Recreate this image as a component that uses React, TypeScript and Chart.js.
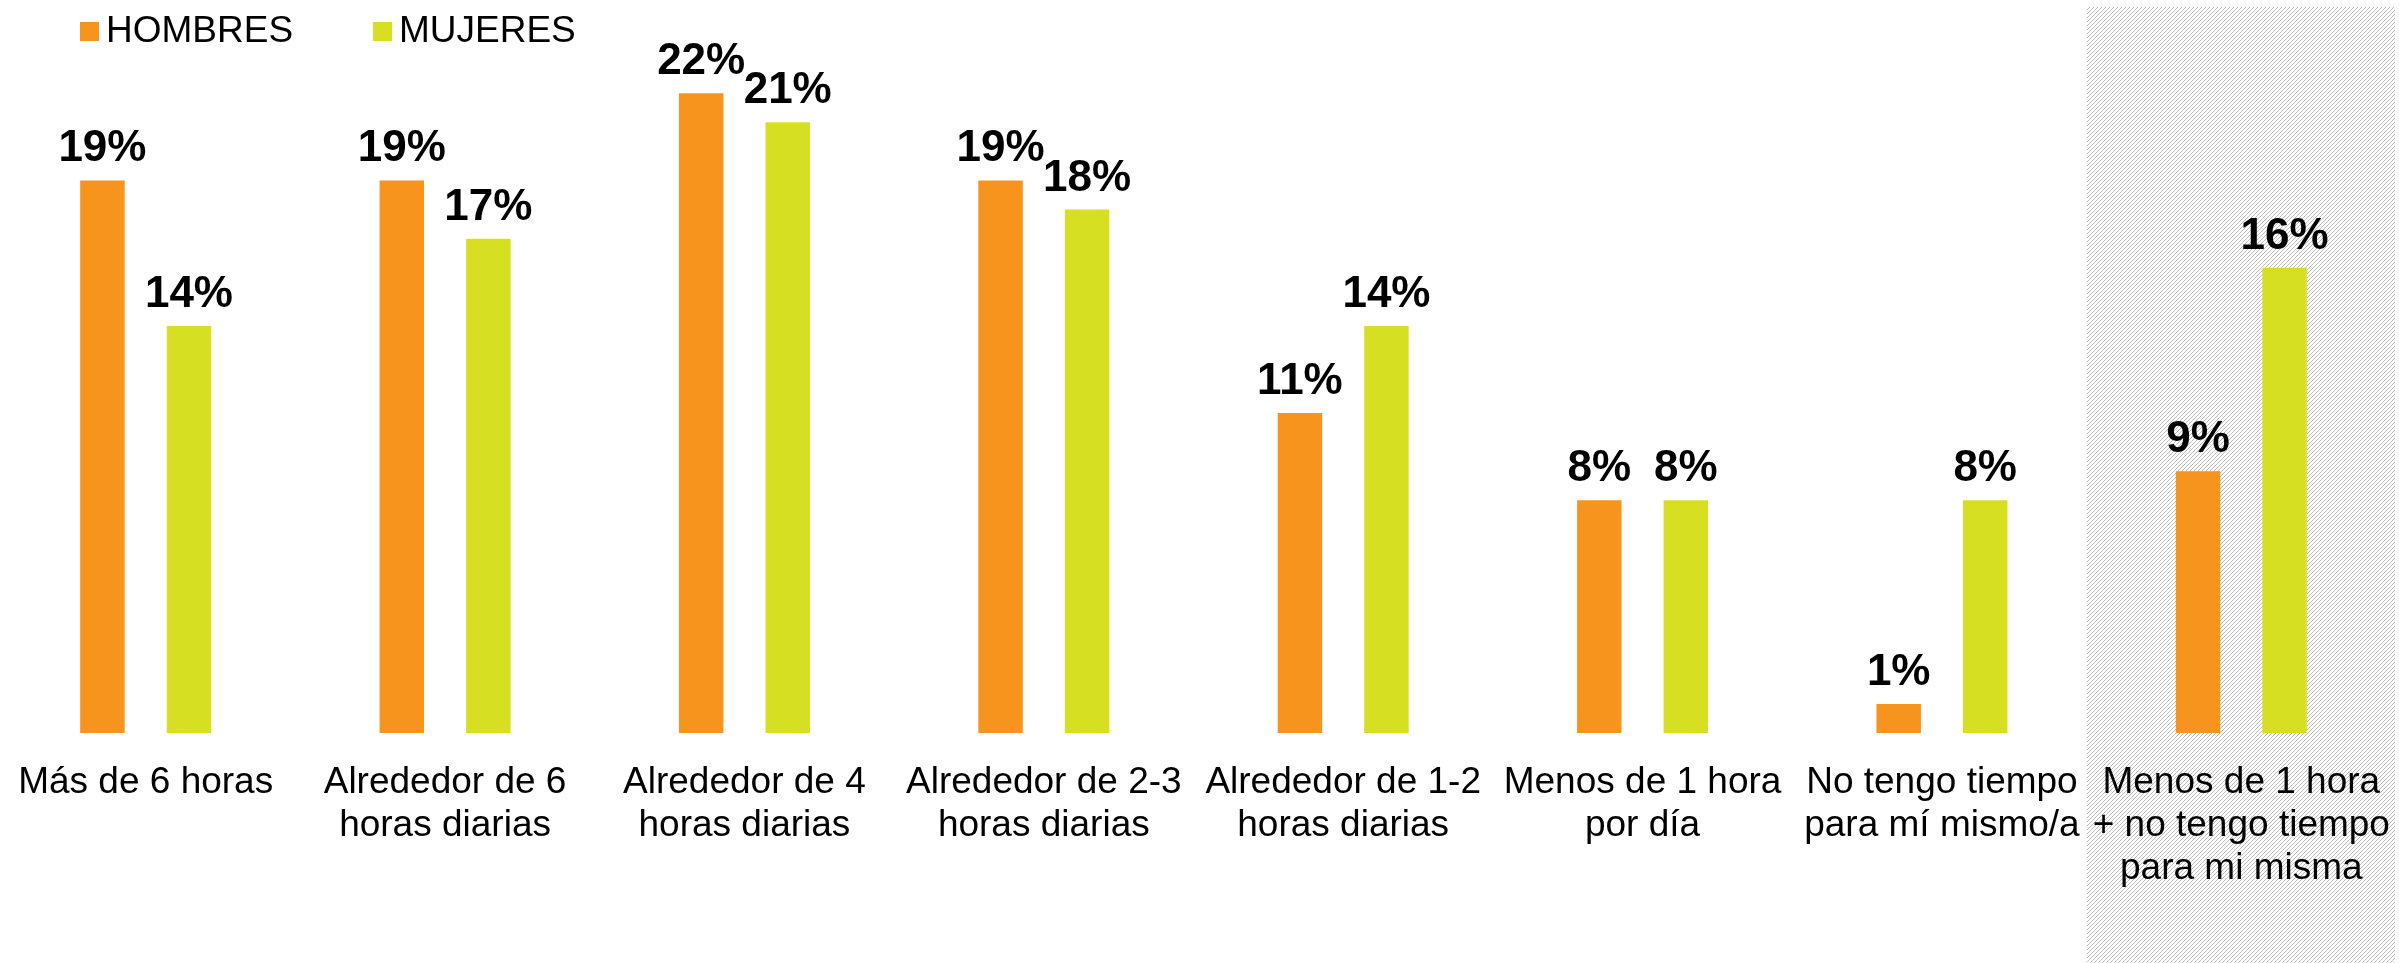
import React, { useEffect, useRef } from 'react';
import { Chart, registerables } from 'chart.js';

Chart.register(...registerables);

// ---- data ----
const categories: string[][] = [
  ['Más de 6 horas'],
  ['Alrededor de 6', 'horas diarias'],
  ['Alrededor de 4', 'horas diarias'],
  ['Alrededor de 2-3', 'horas diarias'],
  ['Alrededor de 1-2', 'horas diarias'],
  ['Menos de 1 hora', 'por día'],
  ['No tengo tiempo', 'para mí mismo/a'],
  ['Menos de 1 hora', '+ no tengo tiempo', 'para mi misma'],
];
const hombres = [19, 19, 22, 19, 11, 8, 1, 9];
const mujeres = [14, 17, 21, 18, 14, 8, 8, 16];
const seriesNames = ['HOMBRES', 'MUJERES'];
const seriesColors = ['#F7941E', '#D7DF23'];
const highlightedCategory = 7;

const FONT = '"Liberation Sans", Arial, sans-serif';
const CANVAS_LEFT = -4;
const CANVAS_W = 2403;
const CANVAS_H = 963;

function makeHatch(ctx: CanvasRenderingContext2D): CanvasPattern | string {
  const c = document.createElement('canvas');
  c.width = 8;
  c.height = 8;
  const p = c.getContext('2d');
  if (!p) return '#eeeeee';
  p.fillStyle = '#ffffff';
  p.fillRect(0, 0, 8, 8);
  p.fillStyle = '#bcbcbc';
  for (let y = 0; y < 8; y++) {
    for (let x = 0; x < 8; x++) {
      if ((x + y) % 4 === 0) p.fillRect(x, y, 1, 1);
    }
  }
  return ctx.createPattern(c, 'repeat') || '#eeeeee';
}

const hatchPlugin = {
  id: 'hatchBand',
  beforeDraw(chart: any) {
    const { ctx, scales } = chart;
    const xs = scales.x;
    const cx = xs.getPixelForValue(highlightedCategory);
    ctx.save();
    ctx.fillStyle = makeHatch(ctx);
    ctx.fillRect(Math.round(cx - 154), 7, 308, CANVAS_H - 7);
    ctx.restore();
  },
};

const valueLabelPlugin = {
  id: 'valueLabels',
  afterDatasetsDraw(chart: any) {
    const { ctx } = chart;
    ctx.save();
    ctx.font = `bold 44px ${FONT}`;
    ctx.fillStyle = '#000000';
    ctx.textAlign = 'center';
    ctx.textBaseline = 'alphabetic';
    chart.data.datasets.forEach((ds: any, di: number) => {
      const meta = chart.getDatasetMeta(di);
      meta.data.forEach((bar: any, i: number) => {
        const v = ds.data[i];
        ctx.fillText(`${Math.round(v)}%`, bar.x, bar.y - 19);
      });
    });
    ctx.restore();
  },
};

const legendPlugin = {
  id: 'customLegend',
  afterDraw(chart: any) {
    const { ctx } = chart;
    const boxX = [80 - CANVAS_LEFT, 373 - CANVAS_LEFT];
    const textX = [106 - CANVAS_LEFT, 399 - CANVAS_LEFT];
    ctx.save();
    ctx.font = `37px ${FONT}`;
    ctx.textAlign = 'left';
    ctx.textBaseline = 'alphabetic';
    seriesNames.forEach((name, i) => {
      ctx.fillStyle = seriesColors[i];
      ctx.fillRect(boxX[i], 22, 19, 19);
      ctx.fillStyle = '#000000';
      ctx.fillText(name, textX[i], 42);
    });
    ctx.restore();
  },
};

export default function App() {
  const ref = useRef<HTMLCanvasElement>(null);

  useEffect(() => {
    if (!ref.current) return;
    const chart = new Chart(ref.current, {
      type: 'bar',
      data: {
        labels: categories,
        datasets: [
          {
            label: seriesNames[0],
            data: hombres,
            backgroundColor: seriesColors[0],
            categoryPercentage: 0.578,
            barPercentage: 0.514,
          },
          {
            label: seriesNames[1],
            data: mujeres,
            backgroundColor: seriesColors[1],
            categoryPercentage: 0.578,
            barPercentage: 0.514,
          },
        ],
      },
      options: {
        responsive: false,
        animation: false,
        layout: { padding: { top: 6, right: 8, left: 0, bottom: 0 } },
        plugins: {
          legend: { display: false },
          tooltip: { enabled: false },
        },
        scales: {
          x: {
            grid: { display: false, drawTicks: false },
            border: { display: false },
            ticks: {
              color: '#000000',
              padding: 28,
              maxRotation: 0,
              autoSkip: false,
              font: { family: FONT, size: 37, lineHeight: 1.16 },
            },
            afterFit: (scale: any) => {
              scale.height = CANVAS_H - 733;
              scale.paddingLeft = 0;
              scale.paddingRight = 0;
            },
          },
          y: {
            display: false,
            min: 0,
            max: 25,
          },
        },
      },
      plugins: [hatchPlugin, valueLabelPlugin, legendPlugin],
    });
    return () => chart.destroy();
  }, []);

  return (
    <div style={{ position: 'absolute', left: CANVAS_LEFT, top: 0, width: CANVAS_W, height: CANVAS_H }}>
      <canvas ref={ref} width={CANVAS_W} height={CANVAS_H} style={{ display: 'block' }} />
    </div>
  );
}
